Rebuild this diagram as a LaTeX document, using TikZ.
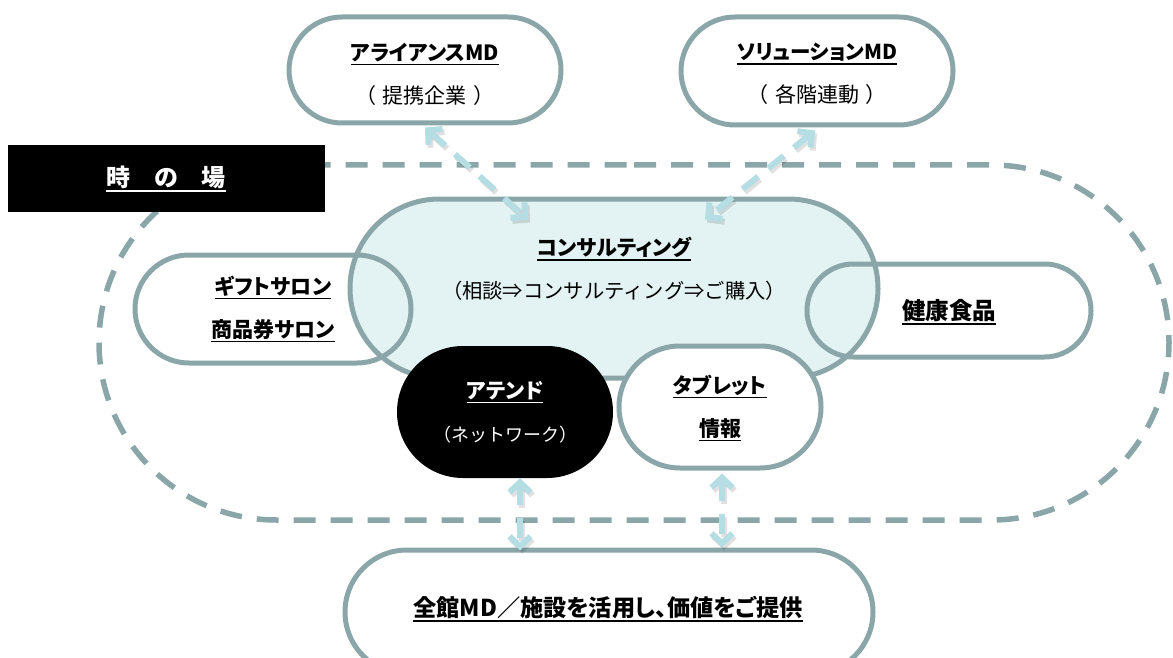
\documentclass[tikz,border=0pt]{standalone}
\usepackage{fontspec}
\setmainfont{Noto Sans CJK JP}
\newfontfamily\jpp[RawFeature=+palt]{Noto Sans CJK JP}
\usetikzlibrary{shapes.misc,arrows.meta,calc}
\definecolor{edge}{RGB}{138,166,169}
\definecolor{arrowc}{RGB}{180,222,227}
\definecolor{cfill}{RGB}{227,242,243}
\newcommand\undl[2][5pt]{\setbox0\hbox{#2}\leavevmode\rlap{\rule[-#1]{\wd0}{1.6pt}}\box0}
\newcommand\ttlx[2][21]{{\jpp\bfseries\fontsize{#1}{43}\selectfont\undl{#2}}}
\newcommand\subtxt[2][20]{{\fontsize{#1}{43}\selectfont #2}}
\newcommand\lnk[2]{\draw[linkshadow] #1 -- #2; \draw[link] #1 -- #2;}
\begin{document}
\begin{tikzpicture}[x=1pt,y=-1pt,
  pill/.style={rounded rectangle, draw=edge, line width=5pt, inner sep=0pt},
  field/.style={rounded rectangle, draw=edge, line width=5.5pt, dash pattern=on 22pt off 15pt, inner sep=0pt},
  txt/.style={align=center, inner sep=0pt, font=\fontsize{20}{43}\selectfont},
  tips/.style={{Straight Barb[length=10pt,width=21pt]}-{Straight Barb[length=10pt,width=21pt]}},
  link/.style={draw=arrowc, line width=6pt, dash pattern=on 20pt off 13pt, tips},
  linkshadow/.style={draw=black, opacity=0.12, line width=6pt, dash pattern=on 20pt off 13pt, tips,
    transform canvas={shift={(2pt,-3pt)}}}]
\useasboundingbox (0,0) rectangle (1173,658);
\clip (0,0) rectangle (1173,658);
% field of time
\node[field, minimum width=1070pt, minimum height=355pt] (field) at (634,342.5) {};
% consulting and neighbours
\node[pill, fill=cfill, minimum width=528pt, minimum height=179pt] (consult) at (614,288.5) {};
\node[pill, minimum width=276pt, minimum height=108pt] (gift) at (273,309) {};
\node[pill, minimum width=284pt, minimum height=93pt] (health) at (949,310.5) {};
\node[rounded rectangle, fill=black, inner sep=0pt, minimum width=216pt, minimum height=132pt] (attend) at (505,412) {};
\node[pill, fill=white, minimum width=202pt, minimum height=122pt] (tablet) at (720,407) {};
\node[pill, fill=white, minimum width=272pt, minimum height=106pt] (alliance) at (425,70) {};
\node[pill, fill=white, minimum width=272pt, minimum height=108pt] (solution) at (817,71) {};
\node[pill, fill=white, minimum width=528pt, minimum height=124pt] (bottom) at (609,612) {};
\node[fill=black, inner sep=0pt, minimum width=317pt, minimum height=67pt] (label) at (166.5,178.5) {};
% texts
\node[txt] (alliance-t) at (425,74) {\ttlx{アライアンスMD}\\\subtxt[21]{（\kern7pt 提携企業\kern7pt）}};
\node[txt] (solution-t) at (817,74) {\ttlx[20.5]{ソリューションMD}\\\subtxt[21]{（\kern7pt 各階連動\kern7pt）}};
\node[txt] (consult-t) at (614,269) {\ttlx{コンサルティング}\\\subtxt[20.3]{（相談⇒コンサルティング⇒ご購入）}};
\node[txt] (gift-t) at (273,309) {\ttlx{ギフトサロン}\\\ttlx{商品券サロン}};
\node[txt] (health-t) at (949,312) {\ttlx[23.5]{健康食品}};
\node[txt, text=white] (attend-t) at (505,412) {\ttlx{アテンド}\\\subtxt[18]{（ネットワーク）}};
\node[txt] (tablet-t) at (720,408) {\ttlx{タブレット}\\\ttlx{情報}};
\node[txt] (bottom-t) at (608,609) {\ttlx[23.2]{全館MD／施設を活用し、価値をご提供}};
\node[txt, text=white] (label-t) at (166,179) {\ttlx[24]{時　の　場}};
% connectors
\lnk{($(alliance.south)+(0,2)$)}{($(consult.north)+(-86,23)$)}
\lnk{($(solution.south)+(-2,3)$)}{($(consult.north)+(91,23)$)}
\lnk{($(attend.south)+(15,0)$)}{($(bottom.north)+(-89,3)$)}
\lnk{($(tablet.south)+(2,3)$)}{($(bottom.north)+(113,0)$)}
\end{tikzpicture}
\end{document}
